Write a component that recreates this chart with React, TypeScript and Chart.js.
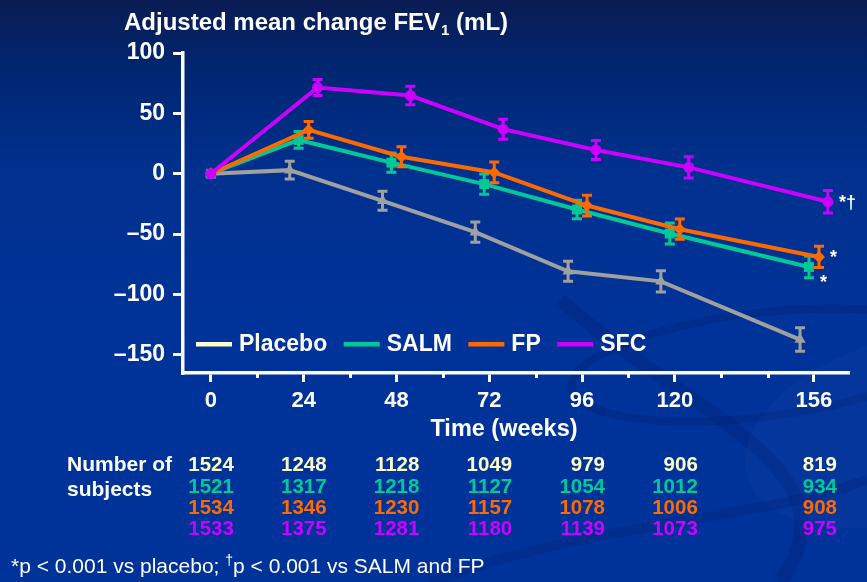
import React, { useEffect, useRef } from 'react';
import { Chart, registerables } from 'chart.js';

Chart.register(...registerables);

// ---------- data ----------
const WEEKS = [0, 24, 48, 72, 96, 120, 156];
const MINOR_WEEKS = [12, 36, 60, 84, 108, 132, 144];
const Y_TICKS = [-150, -100, -50, 0, 50, 100];

const SERIES_NAMES = ['Placebo', 'SALM', 'FP', 'SFC'];

const PLACEBO = [0, 3, -22.4, -48.4, -80.8, -89.1, -137.3];
const SALM = [0, 28, 9.2, -8.6, -29.6, -49.5, -77.2];
const FP = [0, 36.3, 14.1, 1.1, -26.3, -45.9, -68.9];
const SFC = [0, 71.4, 64.8, 36.9, 19.7, 5.3, -23.2];

const PLACEBO_ERR = [0, 7.3, 7.9, 8.4, 8.3, 8.8, 9.7];
const SALM_ERR = [0, 6.9, 7.9, 8.3, 7.6, 8.7, 9.0];
const FP_ERR = [0, 6.9, 8.3, 8.6, 8.6, 8.4, 8.8];
const SFC_ERR = [0, 6.6, 7.6, 8.3, 7.9, 8.8, 9.3];

const N_PLACEBO = [1524, 1248, 1128, 1049, 979, 906, 819];
const N_SALM = [1521, 1317, 1218, 1127, 1054, 1012, 934];
const N_FP = [1534, 1346, 1230, 1157, 1078, 1006, 908];
const N_SFC = [1533, 1375, 1281, 1180, 1139, 1073, 975];

const SIG_MARKS = ['', '*', '*', '*\u2020'];

const TITLE = 'Adjusted mean change FEV';
const TITLE_SUB = '1';
const TITLE_END = ' (mL)';
const X_TITLE = 'Time (weeks)';
const TABLE_LABEL = ['Number of', 'subjects'];

// ---------- styles ----------
const W = 867;
const H = 582;
const FONT = '"Liberation Sans", Arial, Helvetica, sans-serif';
const LINE_COLORS = ['#a0a0a0', '#00c896', '#ff6a00', '#cc00ff'];
const TEXT_COLORS = ['#ffffcc', '#00c896', '#ff6a00', '#cc00ff'];
const POINT_STYLES = ['triangle', 'rect', 'rectRot', 'circle'];
const POINT_RADII = [6.5, 7, 6, 5.5];
const DODGE = [-3.6, -1.3, 1.3, 3.6];
const DRAW_ORDER = [4, 3, 2, 1];

const ALL_VALUES = [PLACEBO, SALM, FP, SFC];
const ALL_ERRS = [PLACEBO_ERR, SALM_ERR, FP_ERR, SFC_ERR];
const ALL_N = [N_PLACEBO, N_SALM, N_FP, N_SFC];

const bgPlugin = {
  id: 'bg',
  beforeDraw(chart: any) {
    const ctx = chart.ctx;
    ctx.save();
    const g = ctx.createLinearGradient(0, 0, 0, H);
    g.addColorStop(0, '#0a1c52');
    g.addColorStop(0.12, '#002672');
    g.addColorStop(0.3, '#00318f');
    g.addColorStop(0.55, '#003399');
    g.addColorStop(1, '#003399');
    ctx.fillStyle = g;
    ctx.fillRect(0, 0, W, H);
    // decorative swooshes
    ctx.strokeStyle = 'rgba(0, 25, 100, 0.25)';
    ctx.lineWidth = 8;
    ctx.beginPath();
    ctx.ellipse(760, 365, 190, 52, -0.12, 0, Math.PI * 2);
    ctx.stroke();
    ctx.lineWidth = 14;
    ctx.strokeStyle = 'rgba(0, 25, 100, 0.22)';
    ctx.beginPath();
    ctx.moveTo(560, 300);
    ctx.bezierCurveTo(700, 420, 860, 470, 780, 582);
    ctx.stroke();
    ctx.fillStyle = 'rgba(40, 90, 190, 0.1)';
    ctx.beginPath();
    ctx.ellipse(900, 430, 160, 90, -0.3, 0, Math.PI * 2);
    ctx.fill();
    ctx.strokeStyle = 'rgba(0, 25, 100, 0.2)';
    ctx.lineWidth = 10;
    ctx.beginPath();
    ctx.moveTo(430, 582);
    ctx.bezierCurveTo(600, 520, 760, 520, 867, 480);
    ctx.stroke();
    ctx.restore();
  },
};

const errorBarPlugin = {
  id: 'errbars',
  afterDatasetDraw(chart: any, args: any) {
    const i = args.index;
    const meta = args.meta;
    const errs = ALL_ERRS[i];
    const vals = ALL_VALUES[i];
    const ys = chart.scales.y;
    const ctx = chart.ctx;
    ctx.save();
    ctx.strokeStyle = LINE_COLORS[i];
    ctx.lineWidth = 3;
    meta.data.forEach((pt: any, k: number) => {
      const e = errs[k];
      if (!e) return;
      const top = ys.getPixelForValue(vals[k] + e);
      const bot = ys.getPixelForValue(vals[k] - e);
      const x = pt.x;
      ctx.beginPath();
      ctx.moveTo(x, top);
      ctx.lineTo(x, bot);
      ctx.moveTo(x - 5, top);
      ctx.lineTo(x + 5, top);
      ctx.moveTo(x - 5, bot);
      ctx.lineTo(x + 5, bot);
      ctx.stroke();
    });
    ctx.restore();
  },
};

const overlayPlugin = {
  id: 'overlay',
  afterDraw(chart: any) {
    const ctx = chart.ctx;
    const xs = chart.scales.x;
    const area = chart.chartArea;
    ctx.save();

    // minor x ticks
    ctx.strokeStyle = '#ffffff';
    ctx.lineWidth = 3;
    MINOR_WEEKS.forEach((w) => {
      const x = Math.round(xs.getPixelForValue(w)) + 0.5;
      ctx.beginPath();
      ctx.moveTo(x, area.bottom);
      ctx.lineTo(x, area.bottom + 5);
      ctx.stroke();
    });

    ctx.fillStyle = '#ffffff';
    // title
    ctx.textBaseline = 'alphabetic';
    ctx.textAlign = 'left';
    ctx.font = `bold 24px ${FONT}`;
    let tx = 124;
    ctx.fillText(TITLE, tx, 30);
    tx += ctx.measureText(TITLE).width + 1;
    ctx.font = `bold 15px ${FONT}`;
    ctx.fillText(TITLE_SUB, tx, 35);
    tx += ctx.measureText(TITLE_SUB).width;
    ctx.font = `bold 24px ${FONT}`;
    ctx.fillText(TITLE_END, tx, 30);

    // x title
    ctx.textAlign = 'center';
    ctx.textBaseline = 'middle';
    ctx.font = `bold 23.5px ${FONT}`;
    ctx.fillText(X_TITLE, 504, 430);

    // legend
    ctx.textAlign = 'left';
    ctx.font = `bold 23px ${FONT}`;
    let lx = 196;
    const ly = 344;
    SERIES_NAMES.forEach((name, i) => {
      ctx.fillStyle = TEXT_COLORS[i];
      ctx.fillRect(lx, ly - 2, 36, 4.5);
      ctx.fillStyle = '#ffffff';
      ctx.fillText(name, lx + 43, ly + 1);
      lx += 43 + ctx.measureText(name).width + 16.5;
    });

    // significance marks
    ctx.font = `bold 18px ${FONT}`;
    chart.data.datasets.forEach((ds: any, i: number) => {
      const mark = SIG_MARKS[i];
      if (!mark) return;
      const meta = chart.getDatasetMeta(i);
      const last = meta.data[meta.data.length - 1];
      const dy = i === 1 ? 16 : 1;
      ctx.fillText(mark, last.x + 11, last.y + dy);
    });

    // table
    ctx.font = `bold 21px ${FONT}`;
    ctx.fillStyle = '#ffffff';
    ctx.textAlign = 'left';
    ctx.fillText(TABLE_LABEL[0], 67, 465);
    ctx.fillText(TABLE_LABEL[1], 67, 490);
    ctx.font = `bold 20.5px ${FONT}`;
    ctx.textAlign = 'right';
    const rowY = [465, 487, 508, 529];
    ALL_N.forEach((row, r) => {
      ctx.fillStyle = TEXT_COLORS[r];
      row.forEach((n, c) => {
        ctx.fillText(String(n), xs.getPixelForValue(WEEKS[c]) + 23, rowY[r]);
      });
    });

    // footnote
    ctx.textAlign = 'left';
    ctx.fillStyle = '#ffffff';
    ctx.font = `21px ${FONT}`;
    let fx = 11;
    const fy = 567;
    const part1 = '*p < 0.001 vs placebo; ';
    ctx.fillText(part1, fx, fy);
    fx += ctx.measureText(part1).width;
    ctx.font = `14px ${FONT}`;
    ctx.fillText('\u2020', fx, fy - 6);
    fx += ctx.measureText('\u2020').width;
    ctx.font = `21px ${FONT}`;
    ctx.fillText('p < 0.001 vs SALM and FP', fx, fy);

    ctx.restore();
  },
};

export default function App() {
  const ref = useRef<HTMLCanvasElement | null>(null);

  useEffect(() => {
    document.body.style.margin = '0';
    const canvas = ref.current;
    if (!canvas) return;

    const datasets = SERIES_NAMES.map((name, i) => ({
      label: name,
      data: WEEKS.map((w, k) => ({ x: k === 0 ? w : w + DODGE[i], y: ALL_VALUES[i][k] })),
      borderColor: LINE_COLORS[i],
      backgroundColor: LINE_COLORS[i],
      borderWidth: 4,
      pointStyle: POINT_STYLES[i],
      pointRadius: POINT_RADII[i],
      pointBorderWidth: 0,
      pointBackgroundColor: LINE_COLORS[i],
      order: DRAW_ORDER[i],
      tension: 0,
    }));

    const chart = new Chart(canvas, {
      type: 'line',
      data: { datasets },
      plugins: [bgPlugin, errorBarPlugin, overlayPlugin],
      options: {
        responsive: false,
        animation: false,
        devicePixelRatio: 1,
        layout: { padding: { left: 0, right: 19, top: 53, bottom: 0 } },
        plugins: { legend: { display: false }, tooltip: { enabled: false } },
        scales: {
          x: {
            type: 'linear',
            min: -7.2,
            max: 164.8,
            afterBuildTicks: (s: any) => {
              s.ticks = WEEKS.map((v) => ({ value: v }));
            },
            afterFit: (s: any) => {
              s.height = H - 373;
            },
            ticks: {
              color: '#ffffff',
              font: { family: FONT, size: 22, weight: 'bold' },
              padding: 6,
              maxRotation: 0,
              autoSkip: false,
              callback: (v: any) => String(v),
            },
            grid: {
              drawOnChartArea: false,
              drawTicks: true,
              tickLength: 9,
              color: '#ffffff',
              lineWidth: 3,
            },
            border: { display: true, color: '#ffffff', width: 3.5 },
          },
          y: {
            type: 'linear',
            min: -165,
            max: 100,
            afterBuildTicks: (s: any) => {
              s.ticks = Y_TICKS.map((v) => ({ value: v }));
            },
            afterFit: (s: any) => {
              s.width = 183;
            },
            ticks: {
              color: '#ffffff',
              font: { family: FONT, size: 23, weight: 'bold' },
              padding: 8,
              callback: (v: any) => (v < 0 ? '\u2013' + Math.abs(v) : String(v)),
            },
            grid: {
              drawOnChartArea: false,
              drawTicks: true,
              tickLength: 10,
              color: '#ffffff',
              lineWidth: 3,
            },
            border: { display: true, color: '#ffffff', width: 3.5 },
          },
        },
      },
    });

    return () => chart.destroy();
  }, []);

  return (
    <div style={{ width: W, height: H, position: 'relative', overflow: 'hidden' }}>
      <canvas ref={ref} width={W} height={H} style={{ display: 'block', width: W, height: H }} />
    </div>
  );
}
